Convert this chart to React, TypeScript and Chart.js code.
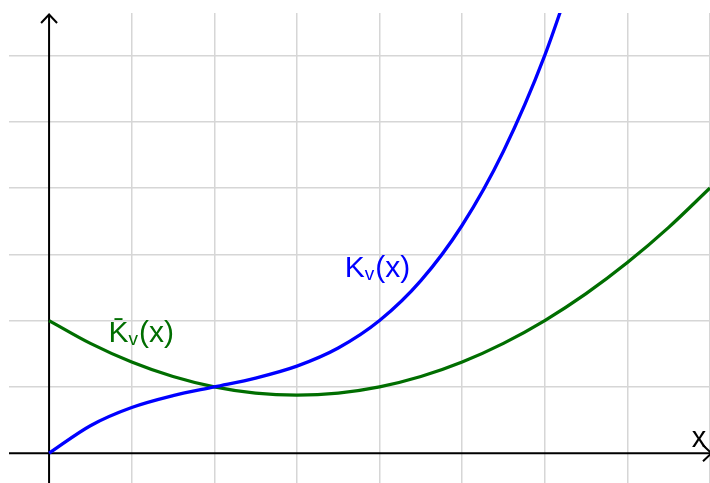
import React, { useEffect, useRef } from "react";
import { Chart, registerables } from "chart.js";

Chart.register(...registerables);

// Data
const kX = [0, 0.5, 1, 1.5, 2, 2.5, 3, 3.5, 4, 4.5, 5, 5.5, 6, 6.5];
const kValues = [0, 0.414, 0.688, 0.867, 1, 1.133, 1.313, 1.586, 2, 2.602, 3.438, 4.555, 6, 7.82];
const kBarX = [0, 0.5, 1, 1.5, 2, 2.5, 3, 3.5, 4, 4.5, 5, 5.5, 6, 6.5, 7, 7.5, 8];
const kBarValues = [2, 1.656, 1.375, 1.156, 1, 0.906, 0.875, 0.906, 1, 1.156, 1.375, 1.656, 2, 2.406, 2.875, 3.406, 4];
const xGridTicks = [1, 2, 3, 4, 5, 6, 7, 8];
const yGridTicks = [1, 2, 3, 4, 5, 6];
const xRange = [-0.485, 8];
const yRange = [-0.45, 6.64];

const FONT = "'Liberation Sans', Arial, sans-serif";
const BLUE = "#0000ff";
const GREEN = "#006e00";

const axesPlugin = {
  id: "axesPlugin",
  beforeDatasetsDraw(chart: any) {
    const { ctx, chartArea, scales } = chart;
    const x0 = scales.x.getPixelForValue(0);
    const y0 = scales.y.getPixelForValue(0);
    ctx.save();
    ctx.strokeStyle = "#000";
    ctx.lineWidth = 2;
    ctx.lineCap = "butt";
    ctx.beginPath();
    ctx.moveTo(x0, chart.height);
    ctx.lineTo(x0, 14);
    ctx.moveTo(chartArea.left, y0);
    ctx.lineTo(chart.width + 2, y0);
    ctx.stroke();
    ctx.lineJoin = "miter";
    ctx.beginPath();
    ctx.moveTo(x0 - 8, 23);
    ctx.lineTo(x0, 14.5);
    ctx.lineTo(x0 + 8, 23);
    ctx.moveTo(chart.width - 7, y0 - 8);
    ctx.lineTo(chart.width + 1.5, y0);
    ctx.lineTo(chart.width - 7, y0 + 8);
    ctx.stroke();
    ctx.restore();
  },
  afterDatasetsDraw(chart: any) {
    const { ctx, scales } = chart;
    const drawLabel = (main: string, sub: string, tail: string, xv: number, yv: number, color: string) => {
      let px = scales.x.getPixelForValue(xv);
      const py = scales.y.getPixelForValue(yv);
      ctx.save();
      ctx.fillStyle = color;
      ctx.textBaseline = "alphabetic";
      ctx.textAlign = "left";
      ctx.font = `30px ${FONT}`;
      ctx.fillText(main, px, py);
      px += ctx.measureText(main.replace("\u0304", "")).width;
      ctx.font = `19px ${FONT}`;
      ctx.fillText(sub, px, py + 3);
      px += ctx.measureText(sub).width + 1;
      ctx.font = `30px ${FONT}`;
      ctx.fillText(tail, px, py);
      ctx.restore();
    };
    drawLabel("K", "v", "(x)", 3.58, 2.65, BLUE);
    drawLabel("K\u0304", "v", "(x)", 0.72, 1.67, GREEN);
    ctx.save();
    ctx.fillStyle = "#000";
    ctx.font = `29px ${FONT}`;
    ctx.textBaseline = "alphabetic";
    ctx.fillText("x", scales.x.getPixelForValue(7.78), scales.y.getPixelForValue(0.09));
    ctx.restore();
  },
};

export default function App() {
  const ref = useRef<HTMLCanvasElement>(null);
  useEffect(() => {
    document.body.style.margin = "0";
    const canvas = ref.current!;
    const chart = new Chart(canvas, {
      type: "line",
      data: {
        datasets: [
          {
            label: "Kv",
            data: kX.map((x, i) => ({ x, y: kValues[i] })),
            borderColor: BLUE,
            borderWidth: 3.3,
            pointRadius: 0,
            cubicInterpolationMode: "monotone",
            fill: false,
          },
          {
            label: "Kbar",
            data: kBarX.map((x, i) => ({ x, y: kBarValues[i] })),
            borderColor: GREEN,
            borderWidth: 3.3,
            pointRadius: 0,
            cubicInterpolationMode: "monotone",
            fill: false,
          },
        ],
      },
      options: {
        responsive: false,
        animation: false,
        devicePixelRatio: 1,
        layout: { padding: { left: 9, top: 13, right: 0, bottom: 0 } },
        plugins: { legend: { display: false }, tooltip: { enabled: false } },
        scales: {
          x: {
            type: "linear",
            min: xRange[0],
            max: xRange[1],
            afterBuildTicks: (s: any) => {
              s.ticks = xGridTicks.map((v) => ({ value: v }));
            },
            ticks: { display: false },
            grid: { drawTicks: false, color: "#d6d6d6", lineWidth: 1.5 },
            border: { display: false },
          },
          y: {
            type: "linear",
            min: yRange[0],
            max: yRange[1],
            afterBuildTicks: (s: any) => {
              s.ticks = yGridTicks.map((v) => ({ value: v }));
            },
            ticks: { display: false },
            grid: { drawTicks: false, color: "#d6d6d6", lineWidth: 1.5 },
            border: { display: false },
          },
        },
      },
      plugins: [axesPlugin],
    } as any);
    return () => chart.destroy();
  }, []);
  return (
    <div style={{ position: "fixed", left: 0, top: 0, width: 710, height: 483 }}>
      <canvas ref={ref} width={710} height={483} />
    </div>
  );
}
